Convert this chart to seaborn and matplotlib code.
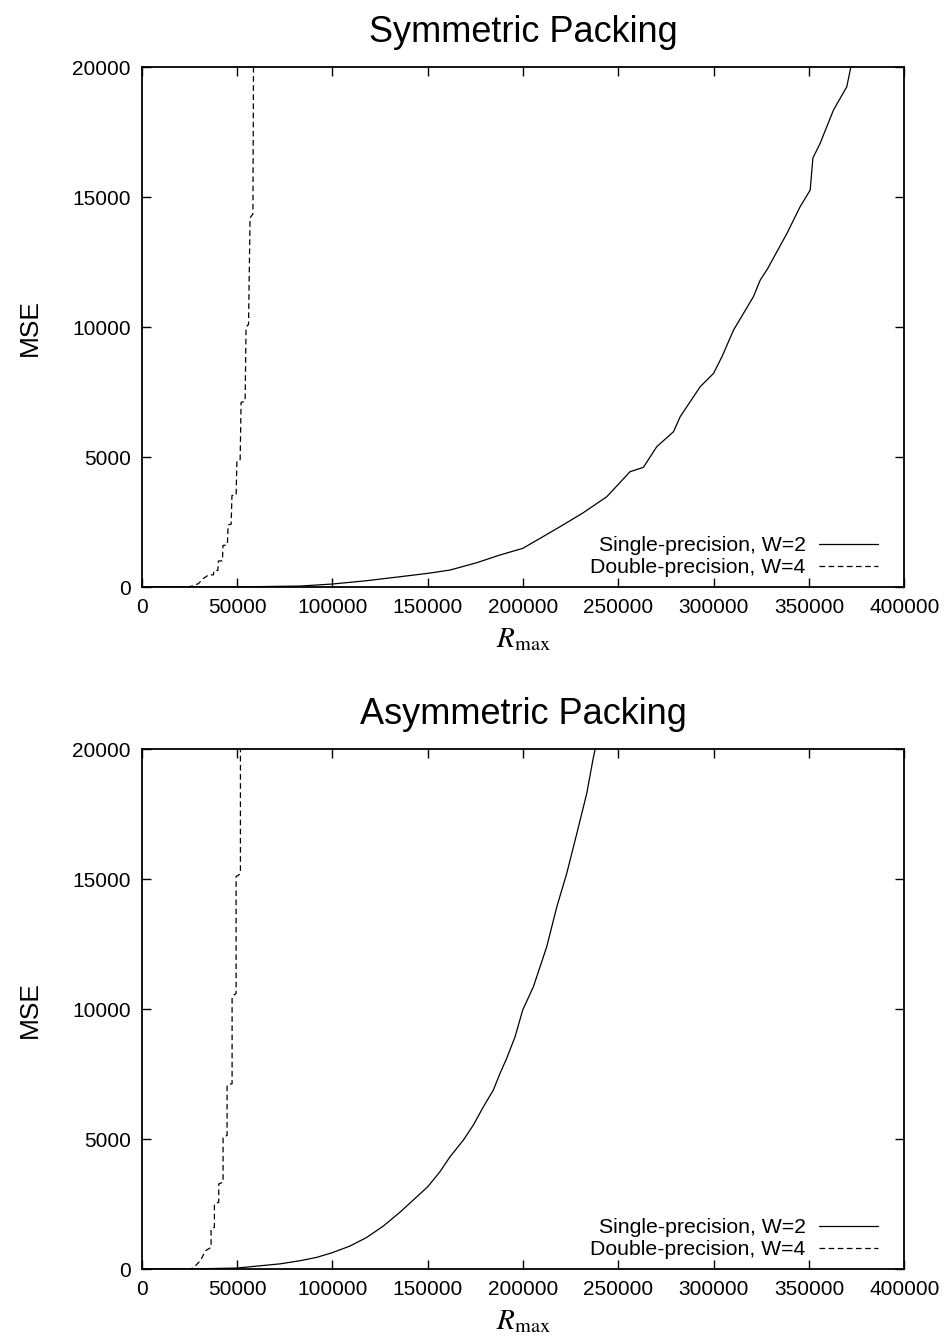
import numpy as np
import pandas as pd
import matplotlib
matplotlib.use("Agg")
import matplotlib.pyplot as plt
import seaborn as sns

# ---- data: MSE versus R_max ----
sym_single_x = [0, 50000, 83000, 99800, 118000, 135500, 150000, 161700, 175700, 187800,
                199800, 208900, 219400, 231600, 243900, 256100, 263100, 270100, 278900,
                282400, 292900, 299900, 304300, 310400, 315600, 320800, 324400, 328300,
                338400, 345300, 350600, 352000, 355800, 362800, 369800, 371900]
sym_single_y = [0, 5, 38, 115, 244, 397, 526, 654, 936, 1231,
                1487, 1872, 2321, 2859, 3474, 4436, 4603, 5397, 5974,
                6551, 7705, 8218, 8858, 9885, 10526, 11167, 11808, 12250,
                13603, 14627, 15270, 16500, 17065, 18346, 19243, 20000]

sym_double_x = [0, 23500, 26500, 29700, 32300, 35000, 37600, 37800, 39900, 40200,
                42300, 42600, 44900, 45300, 46900, 47300, 49500, 49900, 51600, 52100,
                54200, 54700, 56000, 56800, 58300, 58600]
sym_double_y = [0, 0, 40, 130, 330, 465, 470, 625, 640, 1000,
                1010, 1600, 1620, 2390, 2420, 3520, 3540, 4850, 4900, 7100,
                7150, 10000, 10100, 14200, 14350, 20000]

asym_single_x = [0, 25000, 50000, 72500, 83000, 91700, 99800, 109200, 118000, 126700,
                 135500, 142400, 150000, 156400, 161700, 168700, 173900, 179200, 184400,
                 187900, 191400, 195800, 199800, 205400, 212400, 217700, 222900, 228200,
                 233400, 236600, 237800]
asym_single_y = [0, 3, 40, 200, 321, 449, 628, 885, 1218, 1654,
                 2192, 2654, 3167, 3744, 4321, 4962, 5538, 6244, 6885,
                 7526, 8103, 8936, 9962, 10858, 12396, 13935, 15219, 16757,
                 18296, 19577, 20000]

asym_double_x = [0, 22500, 25500, 27250, 30750, 33400, 36350, 36350, 36900, 38100,
                 38100, 38600, 40375, 40375, 40900, 42650, 42650, 43000, 44750, 44750,
                 45100, 47375, 47375, 47900, 49475, 49475, 50875, 51750, 51750]
asym_double_y = [0, 0, 0, 64, 321, 706, 835, 1541, 1560, 1606,
                 2505, 2520, 2569, 3275, 3290, 3340, 5074, 5090, 5140, 7065,
                 7090, 7130, 10470, 10520, 10600, 15100, 15160, 15220, 20000]

series_labels = ["Single-precision, W=2", "Double-precision, W=4"]
panel_titles = ["Symmetric Packing", "Asymmetric Packing"]
x_ticks = [0, 50000, 100000, 150000, 200000, 250000, 300000, 350000, 400000]
y_ticks = [0, 5000, 10000, 15000, 20000]

panels = [
    (panel_titles[0], sym_single_x, sym_single_y, sym_double_x, sym_double_y),
    (panel_titles[1], asym_single_x, asym_single_y, asym_double_x, asym_double_y),
]

sns.set_theme(style="white")
plt.rcParams["font.family"] = ["Liberation Sans", "DejaVu Sans"]
plt.rcParams["mathtext.fontset"] = "stix"
for key in ["text.color", "axes.labelcolor", "xtick.color", "ytick.color", "axes.edgecolor"]:
    plt.rcParams[key] = "black"

fig = plt.figure(figsize=(9.47, 13.36), dpi=100)
axes_boxes = [
    [0.1497, 0.5606, 0.8053, 0.3892],
    [0.1497, 0.0501, 0.8053, 0.3892],
]

for box, (title, sx, sy, dx, dy) in zip(axes_boxes, panels):
    ax = fig.add_axes(box)
    single = pd.DataFrame({"R": sx, "MSE": sy})
    double = pd.DataFrame({"R": dx, "MSE": dy})
    sns.lineplot(data=single, x="R", y="MSE", sort=False, estimator=None,
                 color="black", linewidth=0.9, label=series_labels[0], ax=ax)
    sns.lineplot(data=double, x="R", y="MSE", sort=False, estimator=None,
                 color="black", linewidth=0.9, linestyle=(0, (4.5, 2.8)),
                 label=series_labels[1], ax=ax)

    ax.set_xlim(0, 400000)
    ax.set_ylim(0, 20000)
    ax.set_xticks(x_ticks)
    ax.set_yticks(y_ticks)
    ax.set_xticklabels([str(v) for v in x_ticks])
    ax.set_yticklabels([str(v) for v in y_ticks])
    ax.tick_params(axis="both", which="major", direction="in", length=6.5,
                   width=1.0, color="black", labelsize=15, labelcolor="black",
                   top=True, right=True, bottom=True, left=True)
    ax.tick_params(axis="x", pad=8)
    ax.tick_params(axis="y", pad=8)
    for sp in ax.spines.values():
        sp.set_color("black")
        sp.set_linewidth(1.3)
    ax.set_title(title, fontsize=26, pad=18, color="black")
    ax.set_xlabel(r"$R_{\mathrm{max}}$", fontsize=21, labelpad=6, color="black")
    ax.set_ylabel("MSE", fontsize=19, labelpad=22, color="black")

    leg = ax.legend(loc="lower right", bbox_to_anchor=(0.9655, 0.019),
                    frameon=False, markerfirst=False, fontsize=15.3,
                    handlelength=2.8, handletextpad=0.6, labelspacing=0.15,
                    borderpad=0.0, borderaxespad=0.0)
    for t in leg.get_texts():
        t.set_ha("right")
        t.set_color("black")

fig.savefig("out.png", dpi=100, facecolor="white")
